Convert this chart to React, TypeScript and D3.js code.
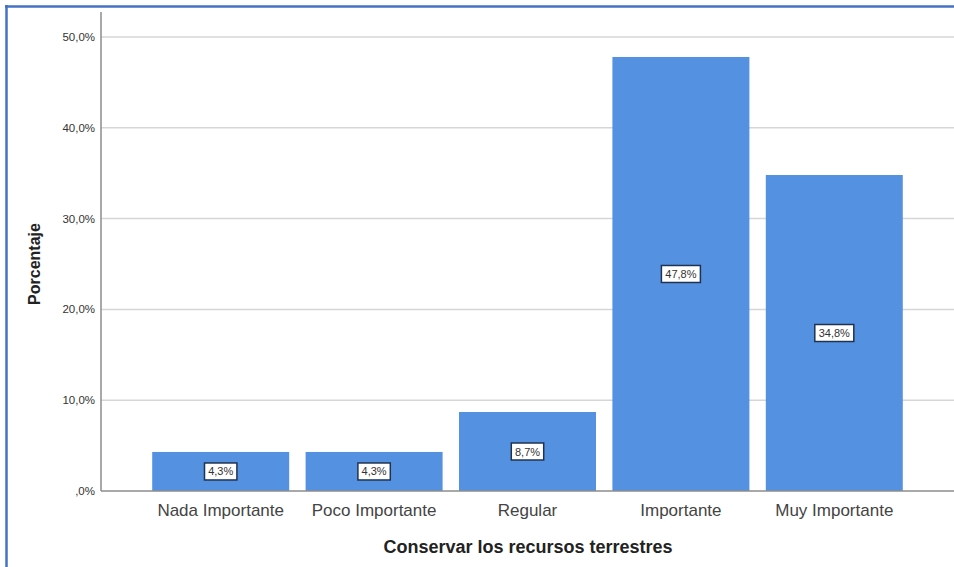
import React from "react";
import * as d3 from "d3";

const categories = ["Nada Importante", "Poco Importante", "Regular", "Importante", "Muy Importante"];
const values = [4.3, 4.3, 8.7, 47.8, 34.8];
const yTicks = [0, 10, 20, 30, 40, 50];
const xTitle = "Conservar los recursos terrestres";
const yTitle = "Porcentaje";

const W = 954, H = 567;

const fmt = (v: number) => {
  const s = v.toFixed(1).replace(".", ",");
  return (s.startsWith("0") ? s.slice(1) : s) + "%";
};

export default function App() {
  const y = d3.scaleLinear().domain([0, 50]).range([491, 37]);
  const x = d3.scaleBand<string>().domain(categories).range([144, 911]).paddingInner(0.107).paddingOuter(0.0535);
  return (
    <svg width={W} height={H} style={{ position: "absolute", left: 0, top: 0, background: "#fff" }} fontFamily="Arial, 'Liberation Sans', sans-serif">
      <rect x={0} y={0} width={W} height={H} fill="#fff" />
      {/* frame */}
      <line x1={5} x2={W} y1={6.5} y2={6.5} stroke="#4472C4" strokeWidth={2.5} />
      <line x1={6.5} x2={6.5} y1={5} y2={H} stroke="#4472C4" strokeWidth={2.5} />
      {/* gridlines */}
      {yTicks.filter(t => t > 0).map(t => (
        <line key={t} x1={101} x2={W} y1={y(t)} y2={y(t)} stroke="#d6d6d6" strokeWidth={1.5} />
      ))}
      {/* bars */}
      {categories.map((c, i) => (
        <rect key={c} x={x(c)} y={y(values[i])} width={x.bandwidth()} height={y(0) - y(values[i])} fill="#5591E1" />
      ))}
      {/* value labels */}
      {categories.map((c, i) => {
        const cx = (x(c) as number) + x.bandwidth() / 2;
        const cy = (y(values[i]) + y(0)) / 2;
        const label = fmt(values[i]);
        const w = label.length * 6.6 + 6;
        return (
          <g key={c + "l"}>
            <rect x={cx - w / 2} y={cy - 8.5} width={w} height={17} fill="#fff" stroke="#1f3350" strokeWidth={1.5} />
            <text x={cx} y={cy + 4} textAnchor="middle" fontSize={11} fill="#333">{label}</text>
          </g>
        );
      })}
      {/* axes */}
      <line x1={101} x2={101} y1={12} y2={491} stroke="#8c8c8c" strokeWidth={1.5} />
      <line x1={101} x2={W} y1={491} y2={491} stroke="#8c8c8c" strokeWidth={1.5} />
      {yTicks.map(t => (
        <text key={t} x={95} y={y(t) + 4} textAnchor="end" fontSize={11.5} fill="#333">{fmt(t)}</text>
      ))}
      {categories.map(c => (
        <text key={c} x={(x(c) as number) + x.bandwidth() / 2} y={516} textAnchor="middle" fontSize={17} fill="#444">{c}</text>
      ))}
      <text x={528} y={553} textAnchor="middle" fontSize={18} fontWeight="bold" fill="#222">{xTitle}</text>
      <text transform={`translate(40,264) rotate(-90)`} textAnchor="middle" fontSize={16} fontWeight="bold" fill="#222">{yTitle}</text>
    </svg>
  );
}
